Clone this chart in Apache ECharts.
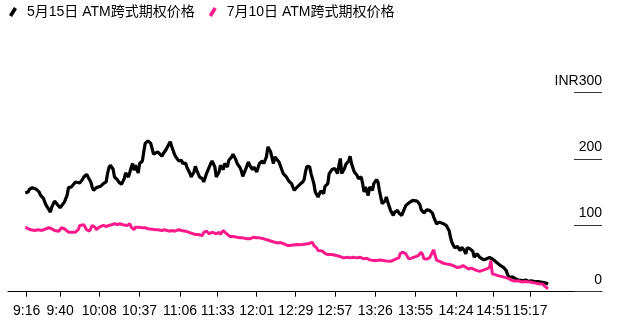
<!DOCTYPE html>
<html><head><meta charset="utf-8">
<script src="https://cdn.jsdelivr.net/npm/echarts@6/dist/echarts.min.js"></script>
<style>html,body{margin:0;padding:0;background:#fff}#c{width:617px;height:328px}</style>
</head><body><div id="c"></div>
<script>
const seriesNames = ['5月15日 ATM跨式期权价格', '7月10日 ATM跨式期权价格'];
const tickLabels = ['9:16','9:40','10:08','10:37','11:06','11:33','12:01','12:29','12:57','13:26','13:55','14:24','14:51','15:17'];
const yTicks = [0, 100, 200, 300];

const blackTimes = ['9:15','9:17','9:18','9:20','9:21','9:23','9:24','9:25','9:26','9:28','9:29','9:30','9:32','9:33','9:34','9:36','9:37','9:38','9:40','9:41','9:43','9:45','9:46','9:48','9:49','9:51','9:52','9:54','9:56','9:57','9:59','10:00','10:02','10:03','10:04','10:06','10:07','10:09','10:11','10:13','10:14','10:15','10:16','10:18','10:19','10:21','10:22','10:24','10:26','10:27','10:29','10:31','10:32','10:33','10:34','10:36','10:37','10:39','10:40','10:41','10:43','10:44','10:45','10:47','10:48','10:50','10:51','10:53','10:54','10:56','10:58','10:59','11:00','11:02','11:03','11:05','11:07','11:08','11:10','11:11','11:13','11:14','11:16','11:17','11:18','11:20','11:22','11:23','11:25','11:27','11:28','11:29','11:31','11:32','11:34','11:35','11:37','11:38','11:40','11:41','11:43','11:44','11:46','11:47','11:49','11:50','11:51','11:53','11:55','11:56','11:58','11:59','12:01','12:02','12:03','12:05','12:06','12:08','12:09','12:10','12:11','12:13','12:14','12:15','12:17','12:18','12:20','12:22','12:23','12:24','12:26','12:27','12:28','12:30','12:32','12:34','12:35','12:36','12:37','12:39','12:40','12:42','12:43','12:45','12:46','12:47','12:49','12:50','12:52','12:53','12:55','12:56','12:57','12:59','13:00','13:01','13:02','13:04','13:05','13:07','13:08','13:09','13:11','13:13','13:14','13:16','13:17','13:18','13:19','13:21','13:22','13:24','13:25','13:27','13:28','13:29','13:31','13:32','13:33','13:34','13:35','13:37','13:39','13:40','13:42','13:43','13:45','13:46','13:48','13:49','13:51','13:53','13:54','13:56','13:58','13:59','14:01','14:02','14:03','14:05','14:07','14:08','14:10','14:12','14:13','14:15','14:17','14:19','14:20','14:21','14:23','14:24','14:25','14:27','14:28','14:30','14:31','14:32','14:34','14:35','14:36','14:37','14:39','14:41','14:42','14:44','14:46','14:48','14:49','14:51','14:53','14:54','14:56','14:58','15:00','15:01','15:03','15:04','15:05','15:07','15:09','15:10','15:12','15:14','15:16','15:18','15:19','15:21','15:23','15:26','15:27','15:29','15:30'];
const blackValues = [148.7,150.2,154.3,156.9,157.8,154.3,152.8,150.2,145.2,140.7,135.1,130.1,123.6,120.0,127.5,136.6,137.7,131.6,126.6,128.6,135.1,145.2,156.9,157.8,160.4,165.4,166.9,163.9,169.0,172.9,177.0,172.9,165.4,157.8,152.8,156.9,155.4,158.9,163.0,165.4,178.1,187.2,190.6,184.6,172.9,169.0,165.4,161.9,170.5,179.0,172.9,187.2,193.2,183.1,190.6,179.0,193.2,197.1,210.8,223.5,227.4,228.5,223.5,207.3,204.3,210.8,212.3,204.3,208.3,214.4,222.4,225.9,219.4,207.3,203.2,197.1,198.2,193.2,194.1,187.2,179.0,172.9,180.5,189.1,183.1,172.9,170.5,165.4,178.1,188.1,193.2,197.1,188.1,172.9,180.5,190.6,184.1,193.2,188.1,198.2,203.2,207.3,199.3,193.2,187.2,182.0,174.0,184.1,195.6,190.6,184.1,188.1,180.5,187.2,193.2,197.1,193.2,203.2,218.3,220.9,210.8,193.2,203.2,205.8,195.6,193.2,178.1,174.0,175.5,166.9,163.0,157.8,152.8,157.8,161.9,165.4,169.0,180.5,189.1,188.1,178.1,163.0,150.2,142.7,147.8,151.8,147.8,158.9,163.0,178.1,184.1,182.0,185.6,178.1,190.6,200.8,178.1,185.6,192.2,197.1,204.3,193.2,180.5,175.5,170.5,172.9,163.0,150.2,157.8,145.2,157.8,152.8,163.0,169.0,165.4,152.8,132.7,135.1,136.6,142.7,135.1,122.6,115.0,120.0,122.6,118.5,115.0,117.6,130.1,132.7,135.1,137.7,138.7,136.6,131.6,123.6,118.5,121.5,123.6,122.6,118.5,112.4,102.4,104.9,102.4,102.4,99.9,92.3,82.2,74.6,66.1,63.1,68.1,62.0,67.0,62.0,57.0,66.1,64.6,66.1,61.0,52.0,57.0,51.9,49.5,48.0,49.5,51.9,51.0,48.0,44.3,41.9,39.3,36.8,31.8,25.7,19.2,22.7,20.7,19.2,17.7,16.6,16.6,17.7,15.6,16.6,15.6,15.1,15.1,14.1,13.6,12.6,11.7];

const pinkTimes = ['9:15','9:17','9:19','9:20','9:22','9:24','9:25','9:27','9:28','9:30','9:32','9:33','9:34','9:36','9:37','9:39','9:40','9:41','9:43','9:44','9:46','9:47','9:49','9:50','9:51','9:53','9:54','9:55','9:57','9:58','9:59','10:01','10:02','10:03','10:05','10:06','10:08','10:09','10:11','10:13','10:15','10:17','10:19','10:21','10:23','10:25','10:28','10:30','10:31','10:33','10:34','10:36','10:39','10:41','10:43','10:46','10:48','10:50','10:53','10:55','10:58','11:00','11:02','11:05','11:07','11:10','11:12','11:14','11:17','11:19','11:22','11:23','11:25','11:27','11:29','11:30','11:32','11:34','11:35','11:37','11:38','11:40','11:42','11:44','11:47','11:49','11:51','11:54','11:56','11:59','12:01','12:03','12:06','12:09','12:11','12:14','12:16','12:18','12:21','12:23','12:25','12:27','12:30','12:32','12:34','12:36','12:38','12:41','12:42','12:44','12:45','12:48','12:50','12:52','12:55','12:58','13:01','13:03','13:06','13:08','13:10','13:13','13:15','13:18','13:20','13:22','13:25','13:27','13:30','13:32','13:34','13:37','13:39','13:41','13:43','13:44','13:46','13:48','13:50','13:52','13:55','13:57','13:59','14:00','14:01','14:03','14:05','14:07','14:08','14:09','14:10','14:13','14:15','14:17','14:20','14:22','14:25','14:27','14:29','14:31','14:33','14:35','14:37','14:39','14:41','14:44','14:46','14:48','14:49','14:50','14:52','14:54','14:57','14:59','15:02','15:04','15:06','15:09','15:11','15:14','15:16','15:18','15:21','15:23','15:26','15:28','15:30'];
const pinkValues = [97.3,94.9,93.4,94.9,92.3,93.4,91.2,92.3,93.4,94.9,96.4,98.3,94.9,92.3,93.4,91.2,93.4,96.4,94.9,92.3,89.7,88.2,89.7,88.2,89.7,93.4,99.9,102.4,100.9,102.4,93.4,91.2,93.4,99.9,97.3,93.4,97.3,99.9,99.9,98.3,99.9,100.9,102.4,101.4,102.4,100.9,99.9,102.4,97.3,93.4,97.3,97.3,96.4,96.4,94.9,94.3,93.4,93.4,92.3,93.4,91.2,92.3,91.2,93.4,92.3,91.2,89.7,88.2,86.2,86.2,84.7,89.3,91.2,87.3,89.7,92.3,87.3,89.7,86.2,92.3,89.7,86.2,83.2,83.2,82.2,81.2,81.2,79.7,79.7,82.2,81.2,81.2,79.7,77.9,76.4,74.6,73.4,74.1,71.9,69.6,69.6,70.4,71.1,70.7,71.1,71.9,72.2,74.6,69.6,66.1,62.0,61.3,57.9,56.0,56.0,54.5,53.0,51.0,51.9,51.0,51.9,51.0,51.9,49.5,50.4,48.0,46.9,46.9,47.7,46.9,46.4,45.8,47.4,49.5,51.0,57.9,59.5,57.0,49.5,50.7,53.0,54.5,59.5,56.0,49.5,49.2,51.0,59.5,63.1,54.5,47.7,44.9,42.8,41.9,40.9,39.3,36.3,37.1,39.3,36.8,34.3,35.6,33.6,31.8,30.7,32.8,34.3,36.8,46.9,26.8,25.7,24.2,22.7,21.6,19.7,17.1,16.2,16.2,14.8,15.4,14.8,14.1,12.9,12.1,11.7,7.6,4.5];

function toMin(s) { const p = s.split(':').map(Number); return p[0] * 60 + p[1]; }
function fmt(v) { const h = Math.floor(v / 60), m = Math.round(v - h * 60); return h + ':' + (m < 10 ? '0' : '') + m; }
const tickVals = tickLabels.map(toMin);
const zip = (ts, vs) => ts.map((t, i) => [toMin(t), vs[i]]);

const FONT = "'Liberation Sans', 'Noto Sans CJK SC', Arial, sans-serif";
const chart = echarts.init(document.getElementById('c'), null, { renderer: 'canvas' });
chart.setOption({
  animation: false,
  backgroundColor: '#fff',
  textStyle: { fontFamily: FONT },
  legend: {
    left: 9, top: 5, padding: 0, itemGap: 14,
    itemWidth: 8, itemHeight: 10,
    icon: 'path://M0,8 L5,0 L8,1.9 L3,9.9 Z',
    textStyle: { fontSize: 14, color: '#000', fontFamily: FONT, padding: [0, 0, 0, 5] },
    data: seriesNames
  },
  grid: { left: 8, right: 15, top: 92.7, bottom: 36.3, containLabel: false },
  xAxis: {
    type: 'value', min: 542.6, max: 968.7,
    splitLine: { show: false },
    axisLine: { show: true, lineStyle: { color: '#000', width: 1 } },
    axisTick: { show: true, customValues: tickVals, length: 5, lineStyle: { color: '#000' } },
    axisLabel: { customValues: tickVals, formatter: v => fmt(v), fontSize: 14, color: '#000', margin: 12, fontFamily: FONT }
  },
  yAxis: {
    type: 'value', position: 'right', min: 0, max: 300, interval: 100,
    splitLine: { show: false },
    axisLine: { show: false },
    axisTick: { show: true, inside: true, length: 28, lineStyle: { color: '#333', width: 1 } },
    axisLabel: {
      inside: true, margin: 0, verticalAlign: 'bottom', fontSize: 14, color: '#000', fontFamily: FONT,
      padding: [0, 0, 5, 0],
      formatter: v => (v === yTicks[yTicks.length - 1] ? 'INR' + v : String(v))
    }
  },
  series: [
    { name: seriesNames[0], type: 'line', data: zip(blackTimes, blackValues), showSymbol: false, symbol: 'none',
      lineStyle: { color: '#000', width: 3.2 }, itemStyle: { color: '#000' } },
    { name: seriesNames[1], type: 'line', data: zip(pinkTimes, pinkValues), showSymbol: false, symbol: 'none',
      lineStyle: { color: '#ff1a8c', width: 3 }, itemStyle: { color: '#ff1a8c' } }
  ]
});
</script></body></html>
